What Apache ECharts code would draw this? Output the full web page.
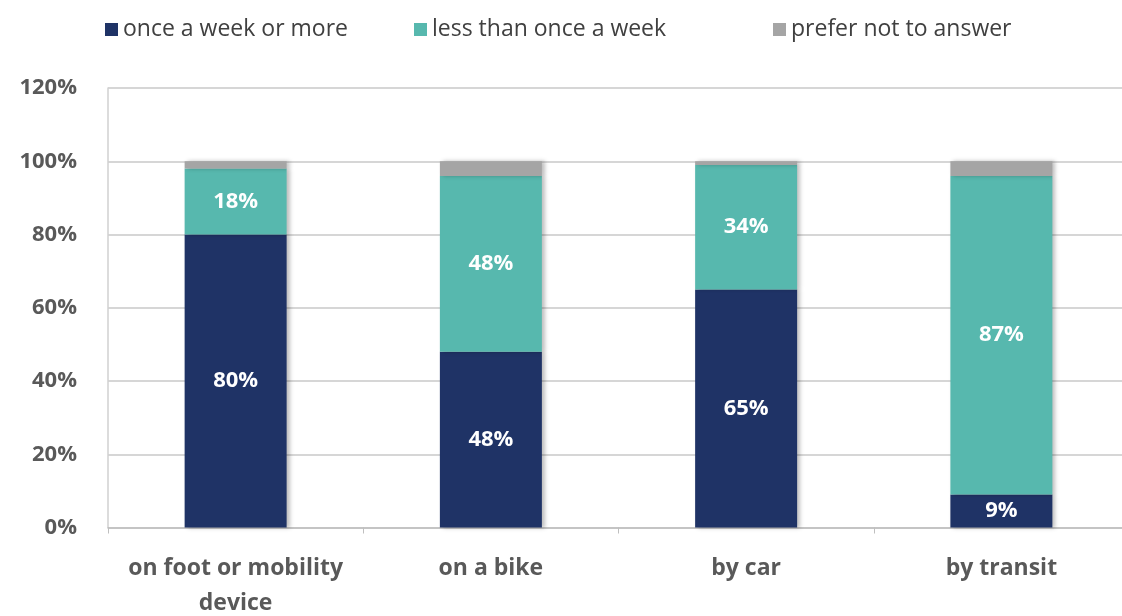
<!DOCTYPE html>
<html>
<head>
<meta charset="utf-8">
<script src="https://cdn.jsdelivr.net/npm/echarts@6/dist/echarts.min.js"></script>
<style>
  html, body { margin: 0; padding: 0; background: #fff; }
  #chart { width: 1122px; height: 616px; }
</style>
</head>
<body>
<div id="chart"></div>
<script>
// Travel modes and how often each is used (percent of respondents)
const categories = ['on foot or mobility\ndevice', 'on a bike', 'by car', 'by transit'];
const weeklyOrMore = [80, 48, 65, 9];
const lessThanWeekly = [18, 48, 34, 87];
const preferNot = [2, 4, 1, 4];
const seriesNames = ['once a week or more', 'less than once a week', 'prefer not to answer'];
const yTicks = [0, 20, 40, 60, 80, 100, 120];

const FONT = '"Open Sans", "Noto Sans", sans-serif';
const colors = ['#1F3366', '#57B8AE', '#A5A5A5'];

const barShadow = {
  shadowColor: 'rgba(0,0,0,0.25)',
  shadowBlur: 4,
  shadowOffsetX: 3,
  shadowOffsetY: 0
};

function labelCfg() {
  return {
    show: true,
    position: 'inside',
    color: '#ffffff',
    fontFamily: FONT,
    fontWeight: 'bold',
    fontSize: 22,
    formatter: p => p.value + '%'
  };
}

// one legend block per series so each entry sits at its own spot
const legendLefts = [100, 409, 768];
const legends = seriesNames.map((name, i) => ({
  top: 13,
  left: legendLefts[i],
  itemWidth: 13,
  itemHeight: 13,
  icon: 'rect',
  textStyle: { fontFamily: FONT, fontSize: 23, color: '#404040' },
  data: [name]
}));

const chart = echarts.init(document.getElementById('chart'), null, { renderer: 'canvas' });

chart.setOption({
  animation: false,
  color: colors,
  textStyle: { fontFamily: FONT },
  legend: legends,
  grid: {
    left: 108,
    top: 88,
    width: 1021,
    height: 439.5,
    containLabel: false,
    outerBoundsMode: 'none'
  },
  xAxis: {
    type: 'category',
    data: categories,
    axisLine: { show: true, lineStyle: { color: '#BFBFBF', width: 1.5 } },
    axisTick: { show: true, length: 6, lineStyle: { color: '#BFBFBF' } },
    axisLabel: {
      interval: 0,
      hideOverlap: false,
      margin: 23,
      fontFamily: FONT,
      fontWeight: 'bold',
      fontSize: 23,
      lineHeight: 35,
      color: '#595959'
    }
  },
  yAxis: {
    type: 'value',
    min: yTicks[0],
    max: yTicks[yTicks.length - 1],
    interval: 20,
    axisLine: { show: true, lineStyle: { color: '#D0D0D0', width: 1.5 } },
    axisTick: { show: false },
    splitLine: { show: true, lineStyle: { color: '#C8C8C8', width: 1.5 } },
    axisLabel: {
      margin: 31,
      fontFamily: FONT,
      fontWeight: 'bold',
      fontSize: 22,
      color: '#595959',
      formatter: v => v + '%'
    }
  },
  series: [
    {
      name: seriesNames[0],
      type: 'bar',
      stack: 'freq',
      barWidth: 102,
      data: weeklyOrMore,
      itemStyle: Object.assign({ color: colors[0] }, barShadow),
      label: labelCfg()
    },
    {
      name: seriesNames[1],
      type: 'bar',
      stack: 'freq',
      barWidth: 102,
      data: lessThanWeekly,
      itemStyle: Object.assign({ color: colors[1] }, barShadow),
      label: labelCfg()
    },
    {
      name: seriesNames[2],
      type: 'bar',
      stack: 'freq',
      barWidth: 102,
      data: preferNot,
      itemStyle: Object.assign({ color: colors[2] }, barShadow),
      label: { show: false }
    }
  ]
});
</script>
</body>
</html>
